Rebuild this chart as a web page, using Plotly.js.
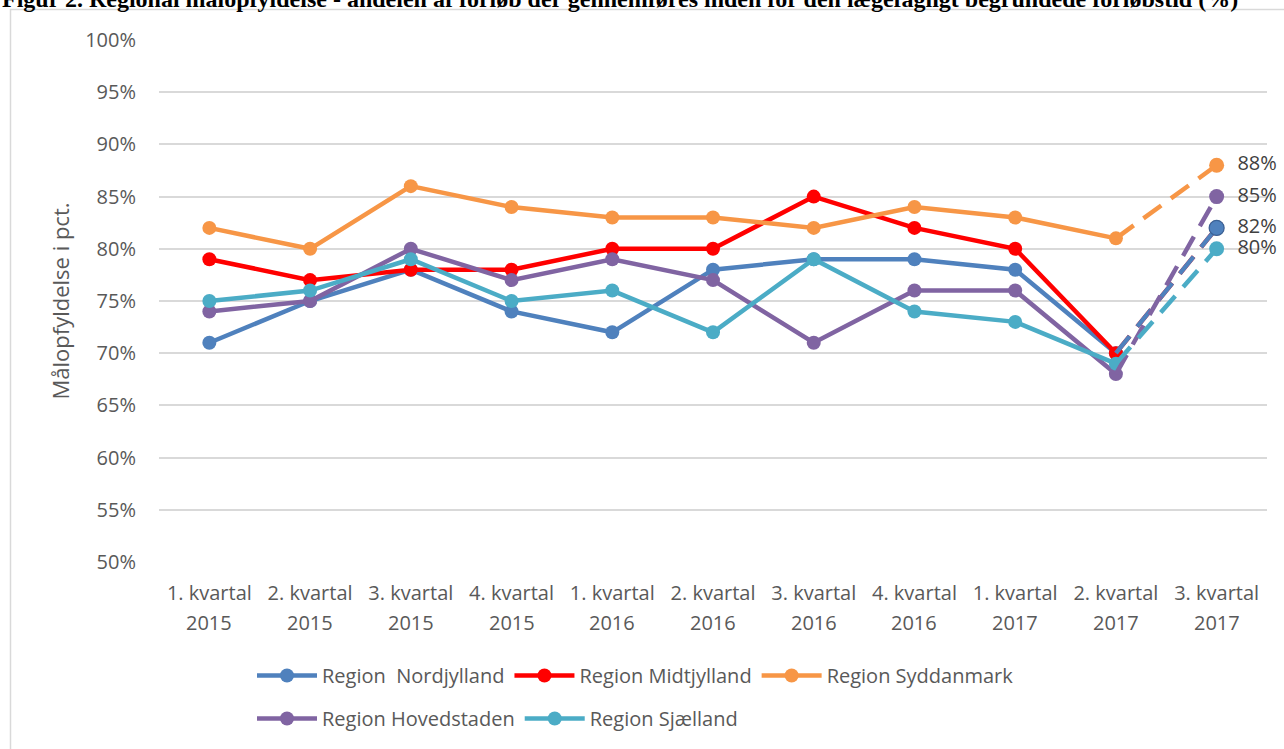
<!DOCTYPE html>
<html>
<head>
<meta charset="utf-8">
<script src="https://cdn.plot.ly/plotly-3.0.1.min.js"></script>
<style>html,body{margin:0;padding:0;background:#fff;}#chart{width:1284px;height:749px;}</style>
</head>
<body>
<div id="chart"></div>
<script>
// ---- data ----
var categories = ["Q1 2015","Q2 2015","Q3 2015","Q4 2015","Q1 2016","Q2 2016","Q3 2016","Q4 2016","Q1 2017","Q2 2017","Q3 2017"];
var quarterLabels = ["1. kvartal","2. kvartal","3. kvartal","4. kvartal","1. kvartal","2. kvartal","3. kvartal","4. kvartal","1. kvartal","2. kvartal","3. kvartal"];
var yearLabels = ["2015","2015","2015","2015","2016","2016","2016","2016","2017","2017","2017"];
var nordjylland = [71, 75, 78, 74, 72, 78, 79, 79, 78, 70, 82];
var midtjylland = [79, 77, 78, 78, 80, 80, 85, 82, 80, 70, 82];
var syddanmark  = [82, 80, 86, 84, 83, 83, 82, 84, 83, 81, 88];
var hovedstaden = [74, 75, 80, 77, 79, 77, 71, 76, 76, 68, 85];
var sjaelland   = [75, 76, 79, 75, 76, 72, 79, 74, 73, 69, 80];
var seriesNames = ["Region\u00a0 Nordjylland","Region Midtjylland","Region Syddanmark","Region Hovedstaden","Region Sjælland"];
var labelShown = [true, false, true, true, true];
var title = "Figur 2. Regional målopfyldelse - andelen af forløb der gennemføres inden for den lægefagligt begrundede forløbstid (%)";

// ---- layout geometry ----
var W = 1284, H = 749, ML = 159, MR = 17, MT = 40, MB = 187;
var PW = W - ML - MR, PH = H - MT - MB;
function px2x(px){ return (px - ML) / PW; }
function py2y(py){ return (H - MB - py) / PH; }

var colors = ["#4F81BD","#FF0000","#F79646","#8064A2","#4BACC6"];
var allSeries = [nordjylland, midtjylland, syddanmark, hovedstaden, sjaelland];
var n = categories.length;
var FONT = "'Open Sans', Lato, sans-serif";
var FS = 20;
var GREY = "#595959";

var traces = [];
// solid parts (up to Q2 2017)
allSeries.forEach(function(vals, i){
  traces.push({
    type: "scatter", mode: "lines+markers",
    name: seriesNames[i],
    x: categories.slice(0, n-1), y: vals.slice(0, n-1),
    line: {color: colors[i], width: 4.5},
    marker: {color: colors[i], size: 14, opacity: 1},
    legend: i < 3 ? "legend" : "legend2",
    hoverinfo: "x+y+name"
  });
});
// dashed projections (Q2 2017 -> Q3 2017)
var dashOrder = [1, 0, 2, 3, 4];
dashOrder.forEach(function(i){
  var vals = allSeries[i];
  traces.push({
    type: "scatter", mode: labelShown[i] ? "lines+markers+text" : "lines+markers",
    name: seriesNames[i], showlegend: false,
    x: categories.slice(n-2), y: vals.slice(n-2),
    line: {color: colors[i], width: 4.5, dash: "22px,12px"},
    marker: {color: colors[i], size: [0, 15], opacity: 1,
             line: {color: i === 0 ? "#3A6296" : colors[i], width: i === 0 ? 1.2 : 0}},
    text: ["", labelShown[i] ? "\u00a0\u00a0" + vals[n-1] + "%" : ""],
    textposition: "middle right",
    textfont: {family: FONT, size: FS, color: "#404040"},
    cliponaxis: false,
    hoverinfo: "x+y+name"
  });
});

var yearAnnotations = categories.map(function(c, i){
  return {
    xref: "x", yref: "paper", x: c, y: py2y(622), xanchor: "center", yanchor: "middle",
    text: yearLabels[i], showarrow: false,
    font: {family: FONT, size: FS, color: GREY}
  };
});

var layout = {
  width: W, height: H,
  margin: {l: ML, r: MR, t: MT, b: MB},
  paper_bgcolor: "#ffffff", plot_bgcolor: "#ffffff",
  font: {family: FONT, color: GREY},
  showlegend: true,
  xaxis: {
    type: "category", categoryorder: "array", categoryarray: categories,
    range: [-0.5, n - 0.5], fixedrange: true,
    tickmode: "array", tickvals: categories, ticktext: quarterLabels,
    tickfont: {family: FONT, size: FS, color: GREY},
    ticks: "", showgrid: false, showline: false, zeroline: false,
    ticklabelstandoff: 17
  },
  yaxis: {
    range: [50, 100], dtick: 5, tick0: 50, ticksuffix: "%", fixedrange: true,
    tickfont: {family: FONT, size: FS, color: GREY},
    ticks: "", showgrid: true, gridcolor: "#D9D9D9", gridwidth: 1.5,
    zeroline: false, showline: false, ticklabelstandoff: 22,
    title: {text: "Målopfyldelse i pct.", font: {family: FONT, size: 22, color: GREY}, standoff: 9}
  },
  legend: {
    orientation: "h", xref: "container", yref: "container",
    x: 252 / W, xanchor: "left", y: 1 - 656 / H, yanchor: "top",
    font: {family: FONT, size: FS, color: GREY}, itemwidth: 60, bgcolor: "rgba(0,0,0,0)"
  },
  legend2: {
    orientation: "h", xref: "container", yref: "container",
    x: 252 / W, xanchor: "left", y: 1 - 699 / H, yanchor: "top",
    font: {family: FONT, size: FS, color: GREY}, itemwidth: 60, bgcolor: "rgba(0,0,0,0)"
  },
  shapes: [{
    type: "rect", xref: "paper", yref: "paper", layer: "below",
    x0: px2x(10.5), x1: px2x(1300), y0: py2y(770), y1: py2y(9.5),
    line: {color: "#D9D9D9", width: 1.5}, fillcolor: "rgba(0,0,0,0)"
  }],
  annotations: [{
    xref: "paper", yref: "paper", x: px2x(0), y: py2y(-1.5), xanchor: "left", yanchor: "middle",
    text: "<b>" + title + "</b>", showarrow: false,
    font: {family: "'Liberation Serif', 'Times New Roman', serif", size: 24, color: "#000000"}
  }].concat(yearAnnotations)
};

Plotly.newPlot("chart", traces, layout, {displayModeBar: false, responsive: false});
</script>
</body>
</html>
